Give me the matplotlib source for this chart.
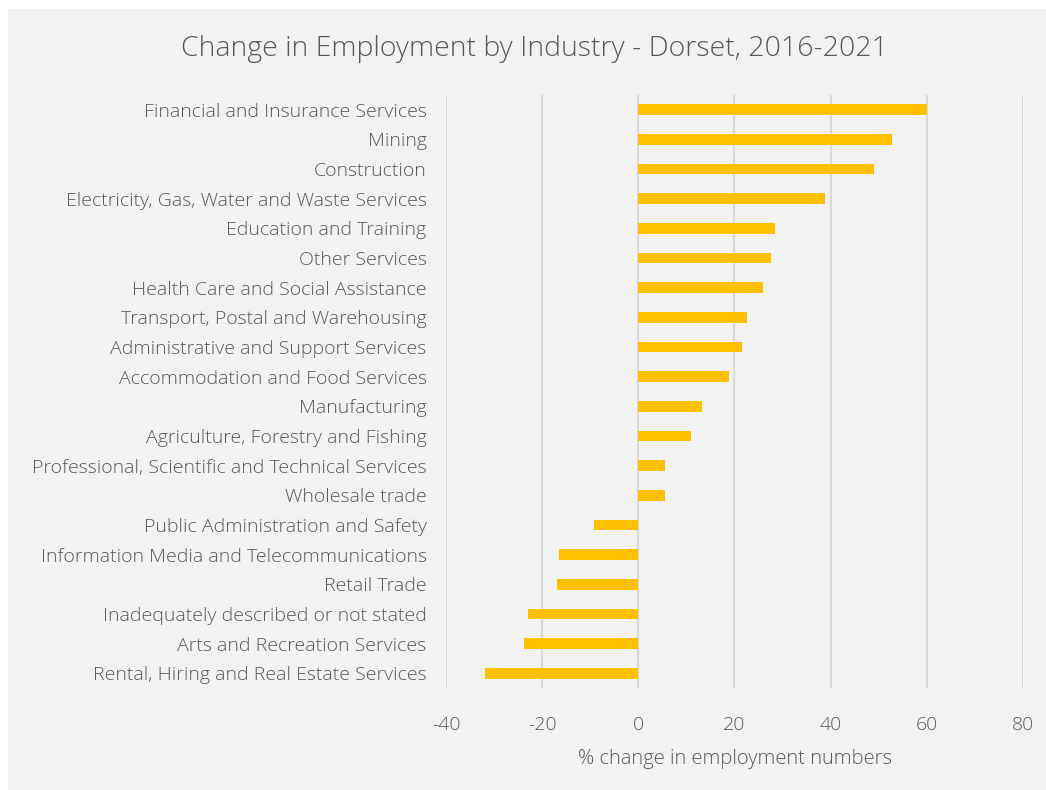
import matplotlib.pyplot as plt
from matplotlib.patches import Rectangle

industries = [
    'Financial and Insurance Services',
    'Mining',
    'Construction',
    'Electricity, Gas, Water and Waste Services',
    'Education and Training',
    'Other Services',
    'Health Care and Social Assistance',
    'Transport, Postal and Warehousing',
    'Administrative and Support Services',
    'Accommodation and Food Services',
    'Manufacturing',
    'Agriculture, Forestry and Fishing',
    'Professional, Scientific and Technical Services',
    'Wholesale trade',
    'Public Administration and Safety',
    'Information Media and Telecommunications',
    'Retail Trade',
    'Inadequately described or not stated',
    'Arts and Recreation Services',
    'Rental, Hiring and Real Estate Services',
]
pct_change = [60.0, 52.8, 49.0, 38.8, 28.5, 27.6, 26.0, 22.7, 21.6, 18.8,
              13.3, 11.0, 5.6, 5.6, -9.2, -16.6, -17.0, -22.9, -23.8, -31.9]
x_ticks = [-40, -20, 0, 20, 40, 60, 80]

plt.rcParams['font.family'] = ['Open Sans', 'DejaVu Sans']
text_col = '#595959'
bg = '#f2f2f2'

fig = plt.figure(figsize=(10.46, 7.9), dpi=100)
fig.patch.set_facecolor('white')
# grey chart area, white strip on the top and left edges only
fig.patches.append(Rectangle((8 / 1046, 0), 1, 1 - 9 / 790,
                             transform=fig.transFigure, facecolor=bg,
                             edgecolor='none', zorder=-10))

ax = fig.add_axes([446 / 1046, 1 - 688 / 790, (1023 - 446) / 1046, (688 - 95) / 790])
ax.set_facecolor('none')

ypos = list(range(len(industries)))
ax.barh(ypos, pct_change, height=0.36, color='#FFC000', zorder=3)
ax.set_ylim(len(industries) - 0.5, -0.5)
ax.set_yticks(ypos)
ax.set_yticklabels(industries, fontsize=14, color=text_col, fontweight='light')

ax.set_xlim(-40, 80)
ax.set_xticks(x_ticks)
ax.set_xticklabels([str(t) for t in x_ticks], fontsize=14, color=text_col, fontweight='light')
ax.grid(axis='x', color='#d9d9d9', linewidth=1.5, zorder=0)
ax.tick_params(axis='both', length=0)
ax.tick_params(axis='x', pad=20)
ax.tick_params(axis='y', pad=14)
for s in ax.spines.values():
    s.set_visible(False)

ax.set_xlabel('% change in employment numbers', fontsize=14.5, color=text_col,
              fontweight='light', labelpad=11)

fig.text(534 / 1046, 1 - 49 / 790, 'Change in Employment by Industry - Dorset, 2016-2021',
         ha='center', va='center', fontsize=20.5, color=text_col, fontweight='light')

plt.savefig('out.png', dpi=100, facecolor=fig.get_facecolor())
